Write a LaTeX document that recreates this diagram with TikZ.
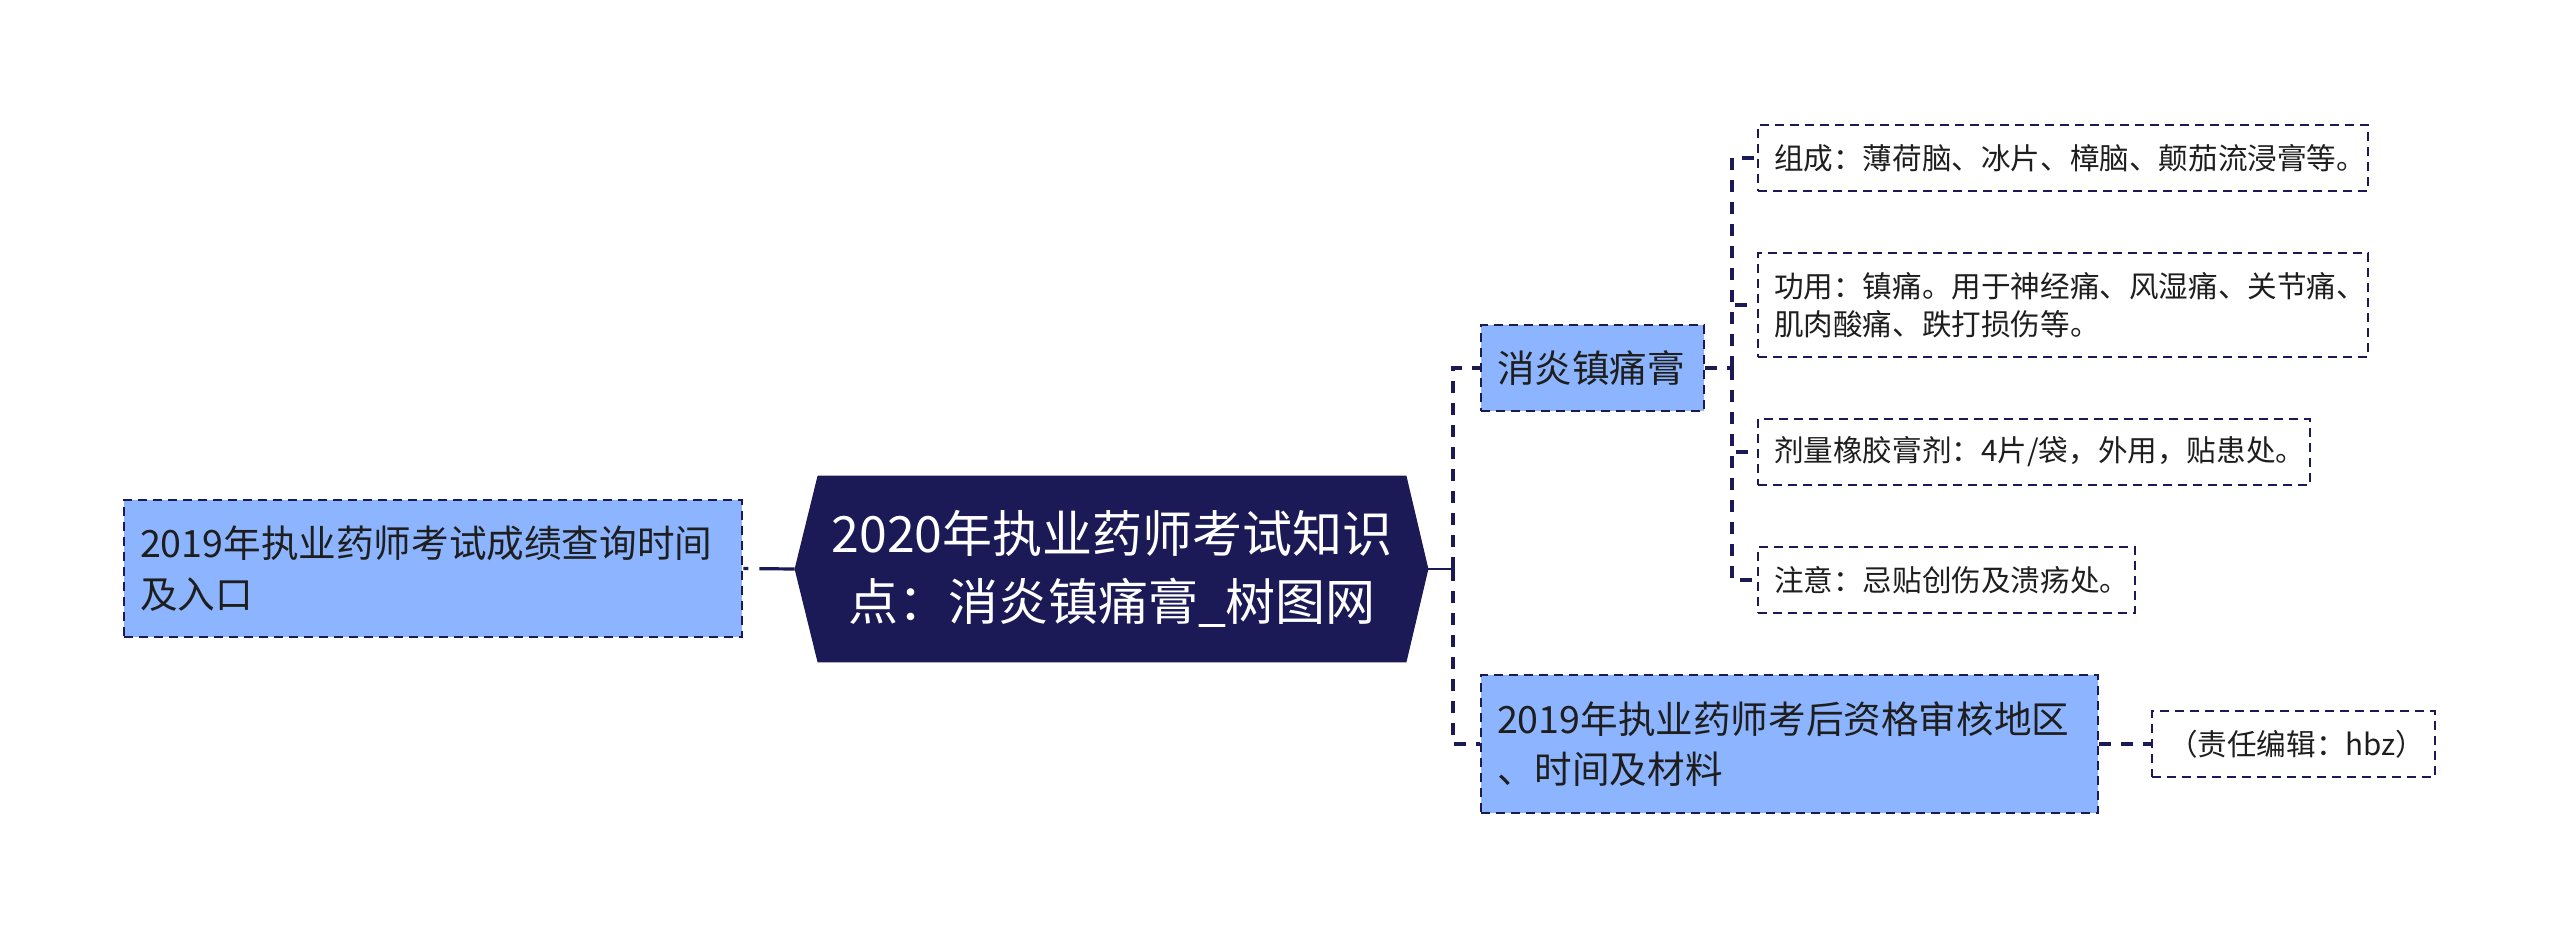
\documentclass[tikz,border=0pt]{standalone}
\usepackage{fontspec}
\setmainfont{Noto Sans CJK SC}
\usetikzlibrary{backgrounds}
\definecolor{navy}{HTML}{1B1956}
\definecolor{lblue}{HTML}{8DB4FE}
\definecolor{txt}{HTML}{1E1E1E}
\begin{document}
\begin{tikzpicture}[x=0.5pt,y=-0.5pt,
  box/.style={draw=navy, line width=1.3pt, dash pattern=on 4.5pt off 3pt,
    inner xsep=8pt, inner ysep=0pt, align=left, text=txt, anchor=center},
  lone/.style={box, fill=lblue, font=\fontsize{18.8pt}{25.3pt}\selectfont},
  ltwo/.style={box, fill=white, font=\fontsize{14.8pt}{18.8pt}\selectfont},
  conn/.style={draw=navy, line width=1.6pt, dash pattern=on 6pt off 5pt},
  solidconn/.style={draw=navy, line width=1.3pt}]
\useasboundingbox (0,0) rectangle (2560,937);

% root
\node[text=white, align=center, inner sep=0pt, minimum width=294pt, minimum height=93pt,
  font=\fontsize{25pt}{34.3pt}\selectfont] (root) at (1112,569)
  {2020年执业药师考试知识\\点：消炎镇痛膏\_树图网};
\coordinate (rootW) at ([xshift=-11.5pt]root.west);
\coordinate (rootE) at ([xshift=11pt]root.east);
\begin{pgfonlayer}{background}
\fill[white] (0,0) rectangle (2560,937);
\fill[navy] (root.north west) -- (rootW) -- (root.south west) -- (root.south east)
  -- (rootE) -- (root.north east) -- cycle;
\end{pgfonlayer}

% level 1
\node[lone, text width=293pt, minimum height=68.5pt] (left) at (433,568.5)
  {2019年执业药师考试成绩查询时间\\及入口};
\node[lone, text width=95.5pt, minimum height=43pt] (xiao) at (1592.5,368)
  {消炎镇痛膏};
\node[lone, text width=292.5pt, minimum height=69pt] (bot) at (1789.5,744)
  {2019年执业药师考后资格审核地区\\、时间及材料};

% level 2
\node[ltwo, text width=289pt, minimum height=33pt] (c1) at (2063,158)
  {组成：薄荷脑、冰片、樟脑、颠茄流浸膏等。};
\node[ltwo, text width=289pt, minimum height=52pt] (c2) at (2063,305)
  {功用：镇痛。用于神经痛、风湿痛、关节痛、\\肌肉酸痛、跌打损伤等。};
\node[ltwo, text width=260pt, minimum height=33pt] (c3) at (2034,452)
  {剂量橡胶膏剂：4片/袋，外用，贴患处。};
\node[ltwo, text width=172.5pt, minimum height=33pt] (c4) at (1946.5,580)
  {注意：忌贴创伤及溃疡处。};
\node[ltwo, text width=125.5pt, minimum height=33pt] (c5) at (2293.5,744)
  {（责任编辑：hbz）};

% junctions
\coordinate (j1) at (1453,569);
\coordinate (j2) at (1732,368);

% connectors
\draw[draw=navy, line width=1.6pt, dash pattern=on 2.5pt off 5.5pt on 20pt] (left.east) -- (rootW);
\draw[solidconn] (rootE) -- (j1);
\draw[conn] (j1) |- (xiao.west);
\draw[conn] (j1) |- (bot.west);
\draw[conn] (xiao.east) -- (j2);
\draw[conn] (j2) |- (c1.west);
\draw[conn] (j2) |- (c2.west);
\draw[conn] (j2) |- (c3.west);
\draw[conn] (j2) |- (c4.west);
\draw[conn] (bot.east) -- (c5.west);
\end{tikzpicture}
\end{document}
